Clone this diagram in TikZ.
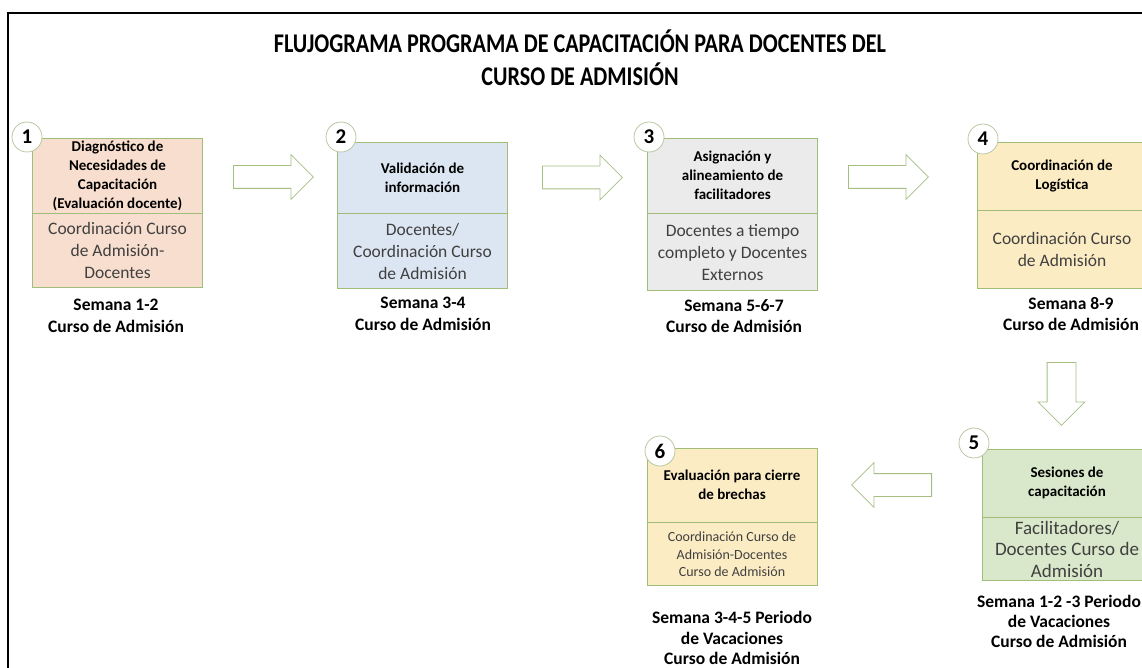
\documentclass[tikz,border=0pt]{standalone}
\usepackage{fontspec}
\setmainfont{Carlito}
\newfontfamily\titlefont[FakeStretch=0.82]{Carlito}
\usetikzlibrary{positioning,shapes.arrows}

\definecolor{peach}{RGB}{248,222,206}
\definecolor{blueish}{RGB}{220,230,242}
\definecolor{grayish}{RGB}{235,235,235}
\definecolor{yellowish}{RGB}{252,236,196}
\definecolor{greenish}{RGB}{217,232,202}
\definecolor{boxline}{RGB}{160,190,120}
\definecolor{numline}{RGB}{185,200,160}
\definecolor{arrowline}{RGB}{165,190,130}
\definecolor{bodytext}{RGB}{64,64,64}

\tikzset{
  hdr/.style={draw=boxline, line width=0.8pt, minimum width=170pt, inner sep=0pt,
    align=center, font=\bfseries\fontsize{15}{19}\selectfont},
  body/.style={draw=boxline, line width=0.8pt, minimum width=170pt, inner sep=0pt,
    align=center, text=bodytext, font=\fontsize{17.5}{22}\selectfont},
  num/.style={circle, draw=numline, fill=white, line width=0.8pt, minimum size=30pt,
    inner sep=0pt, font=\bfseries\fontsize{21}{21}\selectfont},
  week/.style={align=center, font=\bfseries\fontsize{17.5}{21.5}\selectfont},
  flecha/.style={single arrow, draw=arrowline, fill=white, line width=0.8pt,
    inner sep=11pt, single arrow head extend=11pt,
    minimum height=80pt, anchor=tail},
}

\begin{document}
\begin{tikzpicture}[x=1pt, y=-1pt]
  \useasboundingbox (0,0) rectangle (1142,668);

  % ===== FRAME AND TITLE =====
  \draw[line width=2.5pt] (8,672) -- (8,13) -- (1146,13);
  \node[font=\titlefont\bfseries\fontsize{27}{33}\selectfont, align=center] (titulo)
    at (580,58) {FLUJOGRAMA PROGRAMA DE CAPACITACIÓN PARA DOCENTES DEL\\CURSO DE ADMISIÓN};

  % ===== STEP 1 : diagnostico =====
  \node[hdr, fill=peach, minimum height=75pt] (h1) at (117.5,175.5)
    {Diagnóstico de\\Necesidades de\\Capacitación\\(Evaluación docente)};
  \node[body, fill=peach, minimum height=74pt, below=0pt of h1] (b1)
    {Coordinación Curso\\de Admisión-\\Docentes};
  \node[num] (n1) at (27,137) {1};
  \node[week] (s1) at (116,316) {Semana 1-2\\Curso de Admisión};

  % ===== STEP 2 : validacion =====
  \node[hdr, fill=blueish, minimum height=71pt] (h2) at (422.5,177.5)
    {Validación de\\información};
  \node[body, fill=blueish, minimum height=75pt, below=0pt of h2] (b2)
    {Docentes/\\Coordinación Curso\\de Admisión};
  \node[num] (n2) at (341,137) {2};
  \node[week] (s2) at (423,314) {Semana 3-4\\Curso de Admisión};

  % ===== STEP 3 : facilitadores =====
  \node[hdr, fill=grayish, minimum height=75pt] (h3) at (732.5,175.5)
    {Asignación y\\alineamiento de\\facilitadores};
  \node[body, fill=grayish, minimum height=77pt, below=0pt of h3] (b3)
    {Docentes a tiempo\\completo y Docentes\\Externos};
  \node[num] (n3) at (649,137) {3};
  \node[week] (s3) at (734,316) {Semana 5-6-7\\Curso de Admisión};

  % ===== STEP 4 : logistica =====
  \node[hdr, fill=yellowish, minimum height=68pt] (h4) at (1062,176)
    {Coordinación de\\Logística};
  \node[body, fill=yellowish, minimum height=78pt, below=0pt of h4] (b4)
    {Coordinación Curso\\de Admisión};
  \node[num] (n4) at (983,139) {4};
  \node[week] (s4) at (1071,314) {Semana 8-9\\Curso de Admisión};

  % ===== STEP 5 : sesiones =====
  \node[hdr, fill=greenish, minimum height=68pt] (h5) at (1067,483)
    {Sesiones de\\capacitación};
  \node[body, fill=greenish, minimum height=63pt, below=0pt of h5,
    font=\fontsize{19}{21.5}\selectfont] (b5)
    {Facilitadores/\\Docentes Curso de\\Admisión};
  \node[num] (n5) at (974,443) {5};
  \node[week, font=\bfseries\fontsize{17.5}{20}\selectfont] (s5) at (1059,621)
    {Semana 1-2 -3 Periodo\\de Vacaciones\\Curso de Admisión};

  % ===== STEP 6 : evaluacion =====
  \node[hdr, fill=yellowish, minimum height=74pt] (h6) at (732,485)
    {Evaluación para cierre\\de brechas};
  \node[body, fill=yellowish, minimum height=63pt, below=0pt of h6,
    font=\fontsize{14}{17.5}\selectfont] (b6)
    {Coordinación Curso de\\Admisión-Docentes\\Curso de Admisión};
  \node[num] (n6) at (660,451) {6};
  \node[week, font=\bfseries\fontsize{17.5}{20.5}\selectfont] (s6) at (732,638)
    {Semana 3-4-5 Periodo\\de Vacaciones\\Curso de Admisión};

  % ===== BLOCK ARROWS between the steps (placed by their tail) =====
  \node[flecha] (f12) at (233,177) {};
  \node[flecha] (f23) at (542,177.5) {};
  \node[flecha] (f34) at (848,177) {};
  \node[flecha, shape border rotate=270, minimum height=63pt, inner sep=14pt,
    single arrow head extend=9pt] (f45) at (1061.5,362) {};
  \node[flecha, shape border rotate=180] (f56) at (932,485) {};
\end{tikzpicture}
\end{document}
